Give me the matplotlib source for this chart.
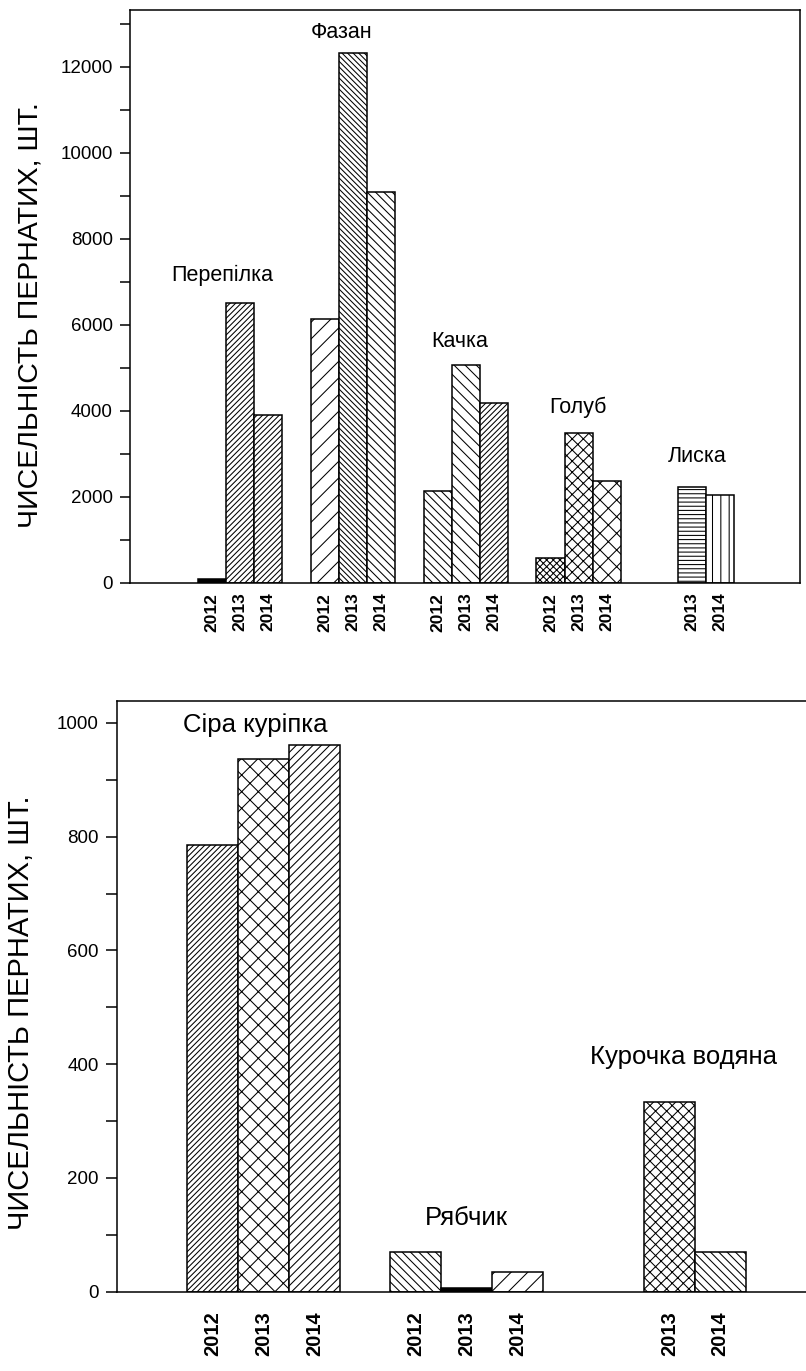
"""Bird counts by species and year, two stacked bar panels with hatch fills."""

import matplotlib
matplotlib.use("Agg")
import matplotlib.pyplot as plt
from matplotlib.ticker import MultipleLocator, FixedLocator

plt.rcParams["font.family"] = ["Liberation Sans", "DejaVu Sans"]
plt.rcParams["hatch.linewidth"] = 0.75

YEARS = [2012, 2013, 2014]

# top panel: game birds (None = no data for that year)
top_species = ["Перепілка", "Фазан", "Качка", "Голуб", "Лиска"]
top_2012 = [100, 6130, 2140, 570, None]
top_2013 = [6500, 12320, 5060, 3480, 2225]
top_2014 = [3900, 9080, 4180, 2370, 2045]
top_hatches = [
    [None, "//////", "//////"],
    ["//", "\\\\\\\\\\\\", "\\\\\\\\"],
    ["\\\\\\\\", "\\\\\\", "//////"],
    ["xxxxx", "xxx", "xx"],
    [None, "----", "||"],
]

# bottom panel: smaller species
bot_species = ["Сіра куріпка", "Рябчик", "Курочка водяна"]
bot_2012 = [786, 70, None]
bot_2013 = [937, 6, 334]
bot_2014 = [961, 35, 70]
bot_hatches = [
    ["//////", "xx", "////"],
    ["\\\\\\\\", None, "//"],
    [None, "xxx", "\\\\\\\\"],
]

YLABEL = "ЧИСЕЛЬНІСТЬ ПЕРНАТИХ, ШТ."


def draw_groups(ax, values_by_year, hatches):
    pos, labels = [], []
    for g in range(len(hatches)):
        for k, year in enumerate(YEARS):
            v = values_by_year[k][g]
            if v is None:
                continue
            x = 4 * g + 4 + (year - 2013)
            h = hatches[g][k]
            fc = "black" if h is None else "white"
            ax.bar(x, v, width=1.0, facecolor=fc, edgecolor="black",
                   hatch=h, linewidth=1.1, zorder=2)
            pos.append(x)
            labels.append(str(year))
    ax.set_xticks(pos)
    ax.set_xticklabels(labels, rotation=90, fontweight="bold")
    ax.tick_params(axis="x", which="major", length=0)


fig = plt.figure(figsize=(8.06, 13.71), dpi=100)

# ---- top panel
ax1 = fig.add_axes([0.1613, 0.5748, 0.8313, 0.4182])
draw_groups(ax1, [top_2012, top_2013, top_2014], top_hatches)
ax1.set_xlim(0.1, 23.84)
ax1.set_ylim(0, 13330)
ax1.yaxis.set_major_locator(MultipleLocator(2000))
ax1.yaxis.set_minor_locator(MultipleLocator(1000))
ax1.xaxis.set_minor_locator(FixedLocator([12]))
ax1.tick_params(axis="x", which="major", labelsize=12.5, pad=7)
ax1.tick_params(axis="x", which="minor", length=9, width=1.1)
ax1.tick_params(axis="y", which="both", length=7.5, width=1.1,
                labelsize=13.5, pad=5)
for s in ax1.spines.values():
    s.set_linewidth(1.1)

top_label_xy = [(3.36, 7140), (7.61, 12790), (11.79, 5605),
                (15.98, 4093), (20.19, 2930)]
for name, (x, y) in zip(top_species, top_label_xy):
    ax1.text(x, y, name, ha="center", va="center", fontsize=15.5)

# ---- bottom panel
ax2 = fig.add_axes([0.1452, 0.05784, 0.8548, 0.43107])
draw_groups(ax2, [bot_2012, bot_2013, bot_2014], bot_hatches)
ax2.set_xlim(1.113, 14.69)
ax2.set_ylim(0, 1039)
ax2.yaxis.set_major_locator(MultipleLocator(200))
ax2.yaxis.set_minor_locator(MultipleLocator(100))
ax2.xaxis.set_minor_locator(FixedLocator([8]))
ax2.tick_params(axis="x", which="major", labelsize=14.5, pad=14)
ax2.tick_params(axis="x", which="minor", length=9, width=1.1)
ax2.tick_params(axis="y", which="both", length=8, width=1.1,
                labelsize=13.5, pad=5)
for s in ax2.spines.values():
    s.set_linewidth(1.1)
ax2.spines["right"].set_visible(False)

bot_label_xy = [(3.83, 996), (7.99, 130), (12.28, 412)]
for name, (x, y) in zip(bot_species, bot_label_xy):
    ax2.text(x, y, name, ha="center", va="center", fontsize=18.5)

fig.text(31 / 806, 1 - 315 / 1371, YLABEL, rotation=90,
         ha="center", va="center", fontsize=20.5)
fig.text(21 / 806, 1 - 1013 / 1371, YLABEL, rotation=90,
         ha="center", va="center", fontsize=21)

fig.savefig("out.png", dpi=100)
